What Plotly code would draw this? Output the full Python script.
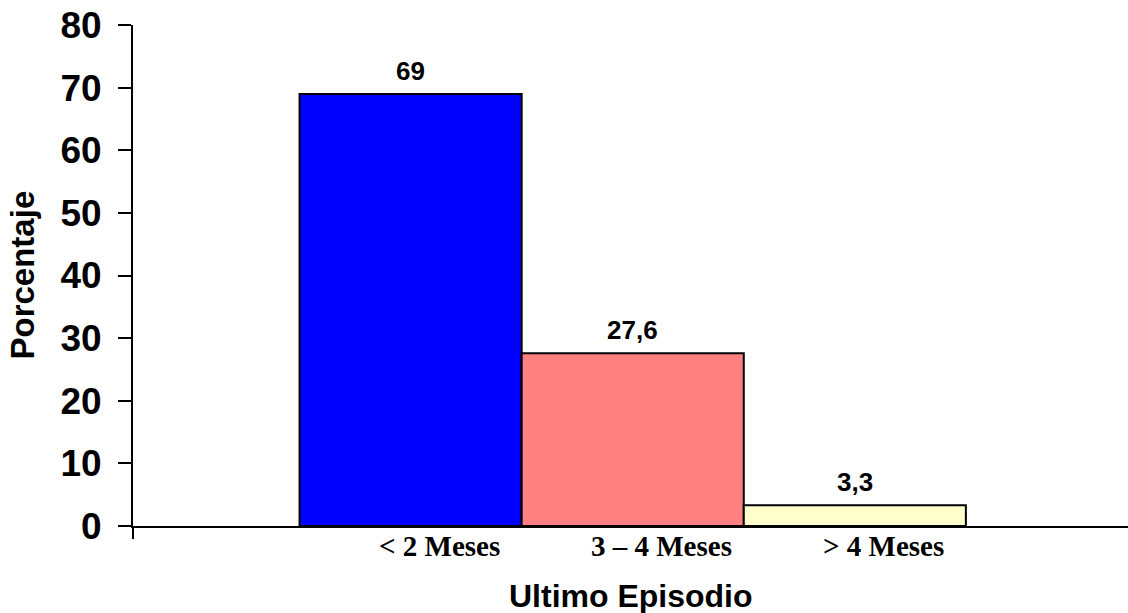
import plotly.graph_objects as go

# Time since the last episode, share of cases (%)
categories = ["< 2 Meses", "3 – 4 Meses", "> 4 Meses"]
values = [69, 27.6, 3.3]
value_labels = ["69", "27,6", "3,3"]
bar_colors = ["#0000FF", "#FF8080", "#FFFFCC"]
y_ticks = [0, 10, 20, 30, 40, 50, 60, 70, 80]

positions = list(range(len(categories)))
label_shift = 0.13  # category captions sit slightly right of the bar centres

SANS = "Liberation Sans, Arial, sans-serif"
SERIF = "Liberation Serif, Times New Roman, serif"

fig = go.Figure()
fig.add_trace(go.Bar(
    x=positions,
    y=values,
    width=1.0,
    marker=dict(color=bar_colors, line=dict(color="black", width=2)),
    hoverinfo="skip",
))

# value labels above each bar
for xi, v, lab in zip(positions, values, value_labels):
    fig.add_annotation(
        x=xi, y=v, text=lab, showarrow=False,
        xanchor="center", yanchor="bottom", yshift=6,
        font=dict(family=SANS, size=26, color="black", weight="bold"),
    )

# category captions under the axis
for xi, cat in zip(positions, categories):
    fig.add_annotation(
        x=xi + label_shift, xref="x", yref="paper", y=0,
        text=cat, showarrow=False,
        xanchor="center", yanchor="top", yshift=-2,
        font=dict(family=SERIF, size=29, color="black", weight="bold"),
    )

# axis titles
fig.add_annotation(
    xref="paper", yref="paper", x=0.5, y=0, yshift=-70,
    text="Ultimo Episodio", showarrow=False,
    xanchor="center", yanchor="middle",
    font=dict(family=SANS, size=32, color="black", weight="bold"),
)
fig.add_annotation(
    xref="paper", yref="paper", x=0, y=0.5, xshift=-111,
    text="Porcentaje", showarrow=False, textangle=-90,
    xanchor="center", yanchor="middle",
    font=dict(family=SANS, size=33, color="black", weight="bold"),
)

# vertical axis line continues a little below zero
fig.add_shape(
    type="line", xref="paper", yref="paper",
    x0=0, x1=0, y0=0, y1=-13 / 501,
    line=dict(color="black", width=2),
)

fig.update_layout(
    width=1128, height=613,
    margin=dict(l=133, r=0, t=25, b=87),
    paper_bgcolor="white", plot_bgcolor="white",
    showlegend=False,
    xaxis=dict(
        range=[-1.25, 3.23],
        showticklabels=False,
        ticks="", showgrid=False, zeroline=False,
        showline=True, linecolor="black", linewidth=2,
        automargin=False,
    ),
    yaxis=dict(
        range=[0, 80],
        tickvals=y_ticks,
        ticks="outside", ticklen=13, tickwidth=2, tickcolor="black",
        ticklabelstandoff=9,
        showgrid=False, zeroline=False,
        showline=True, linecolor="black", linewidth=2,
        tickfont=dict(family=SANS, size=37, color="black", weight="bold"),
        automargin=False,
    ),
)

fig.write_html("out.html")
